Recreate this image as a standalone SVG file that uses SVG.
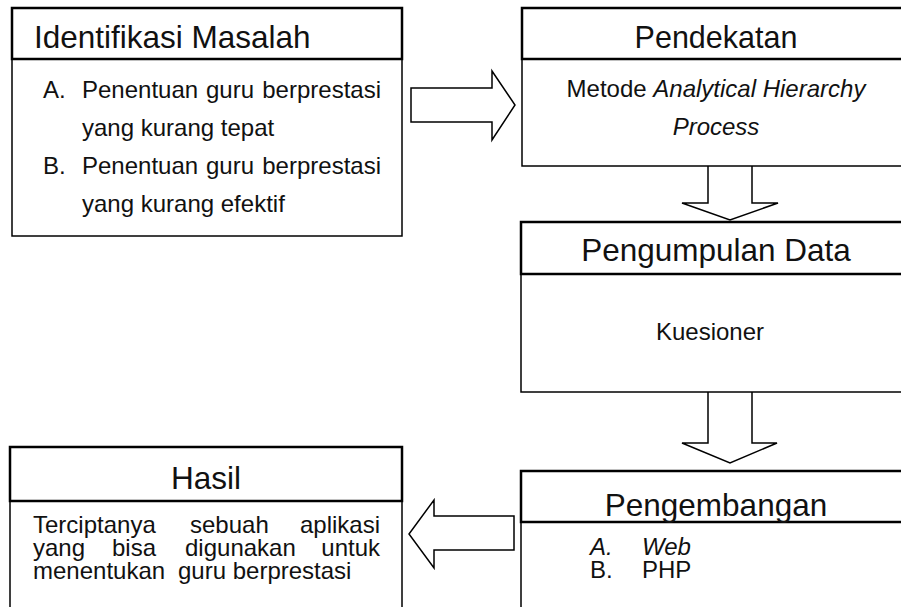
<svg xmlns="http://www.w3.org/2000/svg" width="901" height="607" viewBox="0 0 901 607">
<style>
.box{fill:#fff;stroke:#000;stroke-width:1.5}
.hdr{fill:none;stroke:#000;stroke-width:2.5}
.arr{fill:#fff;stroke:#000;stroke-width:1.5;stroke-linejoin:miter}
text{font-family:"Liberation Sans",Arial,sans-serif;fill:#111}
.t{font-size:31.5px}
.b{font-size:24px}
.i{font-style:italic}
</style>
<rect width="901" height="607" fill="#fff"/>
<g id="connectors">
<polygon class="arr" points="411,88 492,88 492,71 515,105 492,140 492,122 411,122"/>
<polygon class="arr" points="708,165 752,165 752,203 778,203 730,220 682,203 708,203"/>
<polygon class="arr" points="708,391 752,391 752,443 777,443 730,463 682,443 708,443"/>
<polygon class="arr" points="514,516 434,516 434,500 409,534 434,568 434,550 514,550"/>
</g>
<g id="identifikasi">
<rect class="box" x="12" y="8" width="390" height="228"/>
<rect class="hdr" x="12" y="8" width="390" height="51"/>
<text class="t" x="34" y="47.5">Identifikasi Masalah</text>
<text class="b" x="43" y="98">A.</text>
<text class="b" x="82" y="98">Penentuan</text>
<text class="b" x="206" y="98">guru</text>
<text class="b" x="381" y="98" text-anchor="end">berprestasi</text>
<text class="b" x="82" y="136">yang kurang tepat</text>
<text class="b" x="43" y="174">B.</text>
<text class="b" x="82" y="174">Penentuan</text>
<text class="b" x="206" y="174">guru</text>
<text class="b" x="381" y="174" text-anchor="end">berprestasi</text>
<text class="b" x="82" y="212">yang kurang efektif</text>
</g>
<g id="pendekatan">
<rect class="box" x="522" y="8" width="400" height="158"/>
<rect class="hdr" x="522" y="8" width="400" height="51"/>
<text class="t" x="716" y="47.5" text-anchor="middle" style="font-size:30.5px">Pendekatan</text>
<text class="b" x="716" y="97" text-anchor="middle">Metode <tspan class="i">Analytical Hierarchy</tspan></text>
<text class="b i" x="716" y="135" text-anchor="middle">Process</text>
</g>
<g id="pengumpulan">
<rect class="box" x="521" y="222" width="400" height="170"/>
<rect class="hdr" x="521" y="222" width="400" height="52"/>
<text class="t" x="716" y="261" text-anchor="middle">Pengumpulan Data</text>
<text class="b" x="710" y="340" text-anchor="middle">Kuesioner</text>
</g>
<g id="pengembangan">
<rect class="box" x="521" y="471" width="400" height="200"/>
<rect class="hdr" x="521" y="471" width="400" height="51"/>
<text class="t" x="716" y="516" text-anchor="middle">Pengembangan</text>
<text class="b i" x="590" y="555">A.</text>
<text class="b i" x="642" y="555">Web</text>
<text class="b" x="590" y="578">B.</text>
<text class="b" x="642" y="578">PHP</text>
</g>
<g id="hasil">
<rect class="box" x="10" y="447" width="392" height="200"/>
<rect class="hdr" x="10" y="447" width="392" height="54"/>
<text class="t" x="206" y="489" text-anchor="middle">Hasil</text>
<text class="b" x="33" y="533">Terciptanya</text>
<text class="b" x="190" y="533">sebuah</text>
<text class="b" x="380" y="533" text-anchor="end">aplikasi</text>
<text class="b" x="33" y="556">yang</text>
<text class="b" x="112" y="556">bisa</text>
<text class="b" x="185" y="556">digunakan</text>
<text class="b" x="380" y="556" text-anchor="end">untuk</text>
<text class="b" x="33" y="579">menentukan</text>
<text class="b" x="178" y="579">guru berprestasi</text>
</g>
</svg>
